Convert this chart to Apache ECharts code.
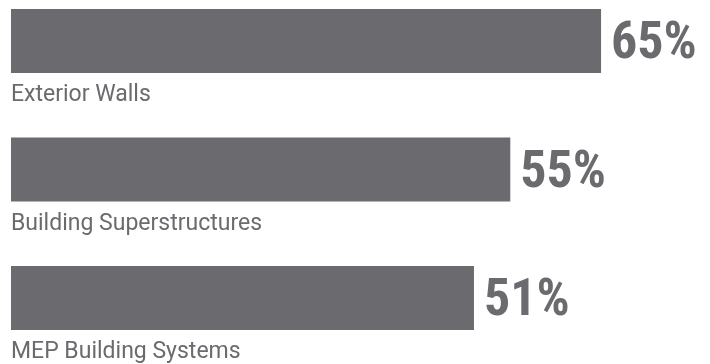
<!DOCTYPE html>
<html>
<head>
<meta charset="utf-8">
<style>
  html, body { margin: 0; padding: 0; background: #ffffff; }
  #chart { width: 710px; height: 364px; }
</style>
<script src="https://cdn.jsdelivr.net/npm/echarts@6/dist/echarts.min.js"></script>
</head>
<body>
<div id="chart"></div>
<script>
// Share of respondents by building system
const categories = ['Exterior Walls', 'Building Superstructures', 'MEP Building Systems'];
const shares = [65, 55, 51];

const barColor = '#6b6a6f';
const textColor = '#6b6a6f';
const labelFont = 'Roboto, "Noto Sans", sans-serif';
const valueFont = '"Roboto Condensed", "Open Sans Condensed", "DejaVu Sans Condensed", sans-serif';

const chart = echarts.init(document.getElementById('chart'), null, { renderer: 'canvas' });

chart.setOption({
  animation: false,
  backgroundColor: '#ffffff',
  // category ticks sit on the bar centres; bars overflow the grid box
  grid: { left: 11, right: 0, top: 41, height: 258, containLabel: false },
  xAxis: {
    type: 'value',
    min: 0,
    max: 77,
    show: false
  },
  yAxis: {
    type: 'category',
    data: categories,
    inverse: true,
    boundaryGap: false,
    axisLine: { show: false },
    axisTick: { show: false },
    splitLine: { show: false },
    axisLabel: {
      inside: true,
      margin: 0,
      align: 'left',
      verticalAlign: 'top',
      padding: [43, 0, 0, 0],
      color: textColor,
      fontFamily: labelFont,
      fontSize: 23
    }
  },
  series: [{
    type: 'bar',
    data: shares,
    barWidth: 64,
    clip: false,
    itemStyle: { color: barColor },
    label: {
      show: true,
      position: 'right',
      distance: 10,
      offset: [0, 4],
      formatter: '{c}%',
      color: textColor,
      fontFamily: valueFont,
      fontWeight: 'bold',
      fontSize: 52
    }
  }]
});
</script>
</body>
</html>
